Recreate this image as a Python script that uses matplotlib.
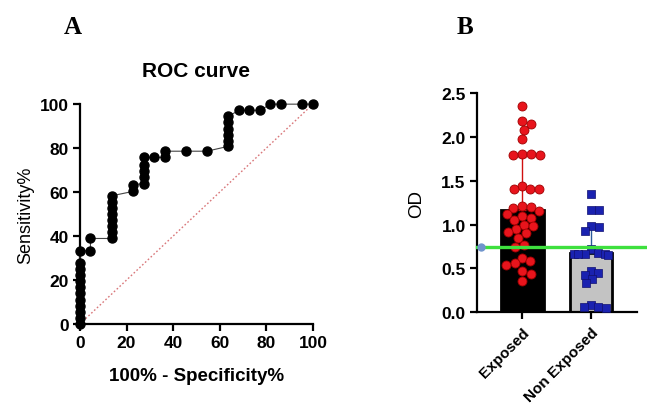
import numpy as np
import matplotlib
matplotlib.use("Agg")
import matplotlib.pyplot as plt

# ---------------- data ----------------
roc_fpr = [0, 0, 0, 0, 0, 0, 0, 0, 0, 0, 0, 0,
           4.5, 4.5,
           13.6, 13.6, 13.6, 13.6, 13.6, 13.6, 13.6, 13.6,
           22.7, 22.7,
           27.3, 27.3, 27.3, 27.3, 27.3,
           31.8,
           36.4, 36.4,
           45.5, 54.5,
           63.6, 63.6, 63.6, 63.6, 63.6, 63.6,
           68.2, 72.7, 77.3,
           81.8, 86.4, 95.5, 100]
roc_tpr = [0, 2.8, 5.6, 8.3, 11.1, 13.9, 16.7, 19.4, 22.2, 25.0, 27.8, 33.3,
           33.3, 38.9,
           38.9, 41.7, 44.4, 47.2, 50.0, 52.8, 55.6, 58.3,
           60.3, 63.3,
           63.9, 66.7, 69.4, 72.2, 75.8,
           75.8,
           75.8, 78.6,
           78.6, 78.6,
           80.8, 83.3, 86.1, 88.9, 91.7, 94.4,
           97.2, 97.2, 97.2,
           100, 100, 100, 100]

groups = ["Exposed", "Non Exposed"]
exposed_od = [2.35, 2.18, 2.15, 2.08, 1.98, 1.80, 1.79, 1.79, 1.80,
              1.44, 1.40, 1.40, 1.40, 1.21, 1.20, 1.19,
              1.15, 1.12, 1.10, 1.08, 1.05, 1.00, 0.98, 0.95, 0.92, 0.90, 0.85,
              0.77, 0.75, 0.62, 0.58, 0.56, 0.54, 0.47, 0.44, 0.36]
nonexposed_od = [1.35, 1.17, 1.17, 0.98, 0.93, 0.97, 0.72,
                 0.68, 0.67, 0.66, 0.66, 0.67, 0.65,
                 0.47, 0.45, 0.42, 0.38, 0.33,
                 0.08, 0.06, 0.06, 0.05]
bar_means = [1.17, 0.68]
bar_err = [0.60, 0.28]
cutoff = 0.75

# ---------------- figure ----------------
plt.rcParams['font.family'] = ['Liberation Sans', 'DejaVu Sans']
fig = plt.figure(figsize=(6.47, 4.14), dpi=100)

# Panel A
axA = fig.add_axes([0.1236, 0.215, 0.360, 0.531])
axA.plot([0, 100], [0, 100], linestyle=(0, (1.2, 1.6)), color='#d9777a', lw=1.0, zorder=1)
axA.plot(roc_fpr, roc_tpr, color='#444444', lw=0.8, marker='o', ms=6.5,
         mfc='black', mec='black', clip_on=False, zorder=3)
axA.set_xlim(0, 100)
axA.set_ylim(0, 100)
axA.set_xticks([0, 20, 40, 60, 80, 100])
axA.set_yticks([0, 20, 40, 60, 80, 100])
for s in ['top', 'right']:
    axA.spines[s].set_visible(False)
for s in ['left', 'bottom']:
    axA.spines[s].set_linewidth(1.6)
axA.tick_params(width=1.6, length=5, labelsize=12.5, pad=3)
for lab in axA.get_xticklabels() + axA.get_yticklabels():
    lab.set_fontweight('bold')
axA.set_xlabel('100% - Specificity%', fontsize=13.5, fontweight='bold', labelpad=12)
axA.set_ylabel('Sensitivity%', fontsize=13, labelpad=4)
axA.set_title('ROC curve', fontsize=15, fontweight='bold', pad=20)

# Panel B
axB = fig.add_axes([0.737, 0.2432, 0.248, 0.5298])
axB.set_xlim(-0.657, 1.67)
axB.set_ylim(0, 2.5)
axB.bar([0, 1], bar_means, width=0.62, color=['black', '#c3c3c3'],
        edgecolor='black', linewidth=2.0, zorder=1)


def swarm(values, ax, xc, diam_px, max_half):
    fig.canvas.draw()
    trans = ax.transData
    pts = [trans.transform((xc, v)) for v in values]
    ys = np.array([p[1] for p in pts])
    x0 = pts[0][0]
    placed = []
    xs = np.zeros(len(values))
    order = np.argsort(-ys)
    for i in order:
        y = ys[i]
        cands = [0.0]
        for (px, py) in placed:
            dy = abs(py - y)
            if dy < diam_px:
                dx = np.sqrt(diam_px**2 - dy**2)
                cands += [px + dx, px - dx]
        cands.sort(key=abs)
        chosen = None
        for c in cands:
            ok = all((c - px)**2 + (y - py)**2 >= diam_px**2 - 1e-6 for px, py in placed)
            if ok:
                chosen = c
                break
        if chosen is None:
            chosen = 0.0
        chosen = float(np.clip(chosen, -max_half, max_half))
        xs[i] = chosen
        placed.append((chosen, y))
    inv = trans.inverted()
    return [inv.transform((x0 + dx, y))[0] for dx, y in zip(xs, ys)]


ex_x = swarm(exposed_od, axB, 0, 9.0, 18)
ne_x = swarm(nonexposed_od, axB, 1, 7.5, 17)
axB.errorbar([0], [bar_means[0]], yerr=[[0], [bar_err[0]]], fmt='none',
             ecolor='#d01010', elinewidth=1.0, capsize=3, zorder=2)
axB.errorbar([1], [bar_means[1]], yerr=[[0], [bar_err[1]]], fmt='none',
             ecolor='#2a5a9a', elinewidth=1.0, capsize=3, zorder=2)
axB.scatter(ex_x, exposed_od, s=42, marker='o', color='#e8141c',
            edgecolor='#a00000', linewidth=0.6, zorder=3)
axB.scatter(ne_x, nonexposed_od, s=30, marker='s', color='#1a22b0',
            edgecolor='#101070', linewidth=0.5, zorder=3)

# cut-off line extends beyond axes to figure edge
axB.plot([-0.657, 2.0], [cutoff, cutoff], color='#3ee03e', lw=2.4, zorder=4, clip_on=False)
axB.plot([-0.59], [cutoff], marker='o', ms=5, color='#6f94cc', zorder=5, clip_on=False)

axB.set_yticks([0, 0.5, 1.0, 1.5, 2.0, 2.5])
axB.set_yticklabels(['0.0', '0.5', '1.0', '1.5', '2.0', '2.5'])
axB.set_xticks([0, 1])
axB.set_xticklabels(groups, rotation=45, ha='right', rotation_mode='anchor')
for s in ['top', 'right']:
    axB.spines[s].set_visible(False)
for s in ['left', 'bottom']:
    axB.spines[s].set_linewidth(1.6)
axB.tick_params(width=1.6, length=5, labelsize=12.5, pad=3)
axB.tick_params(axis='x', labelsize=11, pad=4)
for lab in axB.get_xticklabels() + axB.get_yticklabels():
    lab.set_fontweight('bold')
axB.set_ylabel('OD', fontsize=13.5, labelpad=12)

# panel letters
fig.text(73 / 647, 1 - 28 / 414, 'A', family=['Liberation Serif'], fontweight='bold',
         fontsize=18, ha='center', va='center')
fig.text(465 / 647, 1 - 28 / 414, 'B', family=['Liberation Serif'], fontweight='bold',
         fontsize=18, ha='center', va='center')

fig.savefig('out.png', dpi=100)
